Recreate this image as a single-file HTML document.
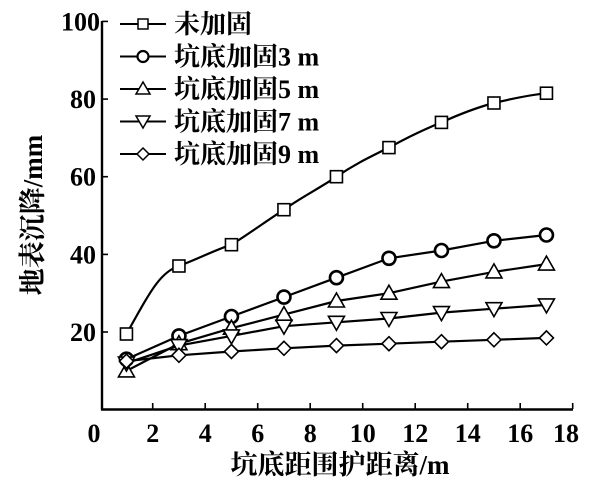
<!DOCTYPE html>
<html><head><meta charset="utf-8"><style>
body{margin:0;background:#fff}
svg text{font-family:"Liberation Serif","Noto Serif CJK SC",serif;font-weight:bold;fill:#000}
</style></head><body>
<svg width="612" height="481" viewBox="0 0 612 481" xmlns="http://www.w3.org/2000/svg">
<defs>
<marker id="m0" markerUnits="userSpaceOnUse" markerWidth="16" markerHeight="16" refX="8" refY="8" overflow="visible"><rect x="2" y="2" width="12" height="12" fill="#fff" stroke="#000" stroke-width="1.6"/></marker>
<marker id="m1" markerUnits="userSpaceOnUse" markerWidth="18" markerHeight="18" refX="9" refY="9" overflow="visible"><circle cx="9" cy="9" r="6.5" fill="#fff" stroke="#000" stroke-width="2.6"/></marker>
<marker id="m2" markerUnits="userSpaceOnUse" markerWidth="18" markerHeight="18" refX="9" refY="9" overflow="visible"><polygon points="9,1 1,15 17,15" fill="#fff" stroke="#000" stroke-width="1.6"/></marker>
<marker id="m3" markerUnits="userSpaceOnUse" markerWidth="18" markerHeight="18" refX="9" refY="9" overflow="visible"><polygon points="1,3 17,3 9,17" fill="#fff" stroke="#000" stroke-width="1.6"/></marker>
<marker id="m4" markerUnits="userSpaceOnUse" markerWidth="18" markerHeight="18" refX="9" refY="9" overflow="visible"><polygon points="9,2 16,9 9,16 2,9" fill="#fff" stroke="#000" stroke-width="1.6"/></marker>
</defs>
<g stroke="#000" stroke-width="2.4" fill="none">
<line x1="102" y1="21" x2="102" y2="410"/>
<line x1="101" y1="409.5" x2="573" y2="409.5"/>
</g>
<g stroke="#000" stroke-width="1.6">
<line x1="152.7" y1="409" x2="152.7" y2="403"/><line x1="205.2" y1="409" x2="205.2" y2="403"/><line x1="257.7" y1="409" x2="257.7" y2="403"/><line x1="310.2" y1="409" x2="310.2" y2="403"/><line x1="362.7" y1="409" x2="362.7" y2="403"/><line x1="415.2" y1="409" x2="415.2" y2="403"/><line x1="467.7" y1="409" x2="467.7" y2="403"/><line x1="520.2" y1="409" x2="520.2" y2="403"/><line x1="572.7" y1="409" x2="572.7" y2="403"/>
<line x1="102" y1="332" x2="108" y2="332"/><line x1="102" y1="254.4" x2="108" y2="254.4"/><line x1="102" y1="176.7" x2="108" y2="176.7"/><line x1="102" y1="99.1" x2="108" y2="99.1"/><line x1="102" y1="21.4" x2="108" y2="21.4"/>
</g>
<g font-size="26" text-anchor="middle">
<text x="94" y="442">0</text><text x="152.7" y="442">2</text><text x="205.2" y="442">4</text><text x="257.7" y="442">6</text><text x="310.2" y="442">8</text><text x="362.7" y="442">10</text><text x="415.2" y="442">12</text><text x="467.7" y="442">14</text><text x="520.2" y="442">16</text><text x="566" y="442">18</text>
</g>
<g font-size="26" text-anchor="end">
<text x="96" y="341">20</text><text x="96" y="263.4">40</text><text x="96" y="185.7">60</text><text x="96" y="108.1">80</text><text x="100" y="30.4">100</text>
</g>
<text x="340" y="474" font-size="27" text-anchor="middle">坑底距围护距离/m</text>
<text transform="translate(42,215) rotate(-90)" font-size="27" text-anchor="middle">地表沉降/mm</text>
<g stroke="#000" stroke-width="2.2" fill="none">
<path d="M126.45,334 C150,292 160,272 178.95,266 C200,258 215,250 231.45,244.7 C250,233 265,222 283.95,209.7 C300,198 320,188 336.45,176.7 C355,164 370,157 388.95,147.6 C410,136 425,129 441.45,122.4 C460,114 475,108 493.95,103 C515,98 530,95 546.45,93.2"/>
<polyline points="126.45,334 178.95,266 231.45,244.7 283.95,209.7 336.45,176.7 388.95,147.6 441.45,122.4 493.95,103 546.45,93.2" stroke="none" marker-start="url(#m0)" marker-mid="url(#m0)" marker-end="url(#m0)"/>
<polyline points="126.45,359.2 178.95,335.9 231.45,316.5 283.95,297.1 336.45,277.7 388.95,258.3 441.45,250.5 493.95,240.8 546.45,235" marker-start="url(#m1)" marker-mid="url(#m1)" marker-end="url(#m1)"/>
<polyline points="126.45,370.9 178.95,343.7 231.45,328.2 283.95,314.6 336.45,301 388.95,293.2 441.45,281.6 493.95,271.9 546.45,264.1" marker-start="url(#m2)" marker-mid="url(#m2)" marker-end="url(#m2)"/>
<polyline points="126.45,363.1 178.95,345.6 231.45,335.9 283.95,326.2 336.45,322.3 388.95,318.5 441.45,312.6 493.95,308.7 546.45,304.9" marker-start="url(#m3)" marker-mid="url(#m3)" marker-end="url(#m3)"/>
<polyline points="126.45,361.2 178.95,355.3 231.45,351.5 283.95,348.3 336.45,345.6 388.95,343.7 441.45,341.7 493.95,339.8 546.45,337.9" marker-start="url(#m4)" marker-mid="url(#m4)" marker-end="url(#m4)"/>
</g>
<g stroke="#000" stroke-width="2" fill="none">
<line x1="120" y1="24" x2="166" y2="24"/><rect x="138" y="19" width="10" height="10" fill="#fff" stroke-width="1.5"/>
<line x1="120" y1="56.5" x2="166" y2="56.5"/><circle cx="143" cy="56.5" r="5.5" fill="#fff" stroke-width="2.2"/>
<line x1="120" y1="89" x2="166" y2="89"/><polygon points="143,82 136,94 150,94" fill="#fff" stroke-width="1.5"/>
<line x1="120" y1="121.5" x2="166" y2="121.5"/><polygon points="136,116 150,116 143,128" fill="#fff" stroke-width="1.5"/>
<line x1="120" y1="154" x2="166" y2="154"/><polygon points="143,148 149,154 143,160 137,154" fill="#fff" stroke-width="1.5"/>
</g>
<g font-size="26">
<text x="174" y="33">未加固</text>
<text x="174" y="65.5">坑底加固3 m</text>
<text x="174" y="98">坑底加固5 m</text>
<text x="174" y="130.5">坑底加固7 m</text>
<text x="174" y="163">坑底加固9 m</text>
</g>
</svg>
</body></html>
